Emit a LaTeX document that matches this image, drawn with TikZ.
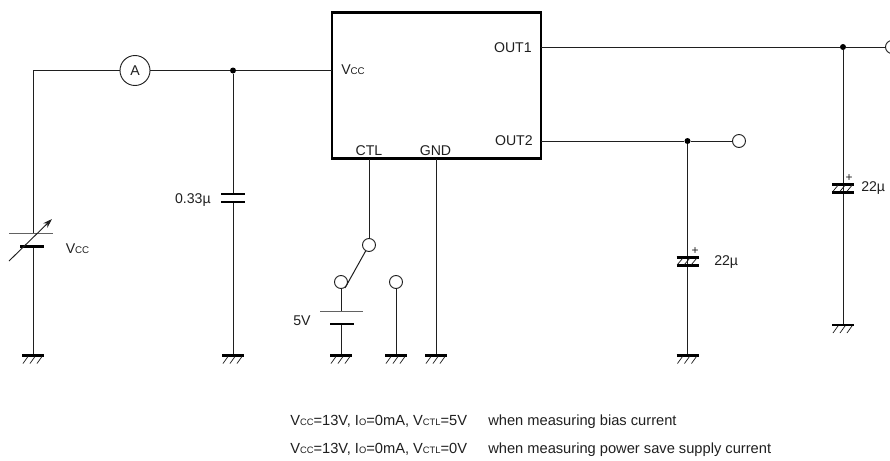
\documentclass[tikz,border=0pt]{standalone}
\usepackage{fontspec}
\setmainfont{Liberation Sans}
\usetikzlibrary{arrows.meta}
\newcommand{\lowcaps}[1]{{\fontsize{7.3}{8}\selectfont #1}}
\newcommand{\notecaps}[1]{{\fontsize{7}{8}\selectfont #1}}
\definecolor{ink}{gray}{0.12}
\tikzset{
  x=0.75pt,y=-0.75pt,
  wire/.style={draw=ink,line width=0.75pt},
  plate/.style={draw=black,line width=2.2pt},
  thinplate/.style={draw=ink!70,line width=0.75pt},
  terminal/.style={circle,draw=ink,fill=white,line width=0.7pt,minimum size=13*0.75pt,inner sep=0pt},
  dot/.style={circle,fill=black,minimum size=6*0.75pt,inner sep=0pt},
  lab/.style={inner sep=0pt,font=\fontsize{10.6}{11}\selectfont,text=ink},
  note/.style={inner sep=0pt,anchor=base west,font=\fontsize{11}{12}\selectfont,text=ink},
  gnd/.pic={
    \draw[plate] (-11,0) -- (11,0);
    \draw[draw=ink,line width=0.55pt] (-5,1) -- (-10,8) (2,1) -- (-3,8) (9,1) -- (4,8);
  },
  polcap/.pic={
    \draw[plate] (-11,-4) -- (11,-4);
    \draw[plate] (-11,4) -- (11,4);
    \draw[draw=ink,line width=0.55pt] (-5,-3) -- (-10,3) (2,-3) -- (-3,3) (9,-3) -- (4,3);
  }
}
\begin{document}
\begin{tikzpicture}
\useasboundingbox (0,0) rectangle (890,461);
% IC
\node[draw=black,line width=2.2pt,minimum width=209*0.75pt,minimum height=146.5*0.75pt,inner sep=0pt] (ic) at (436.5,85.7) {};
\node[lab,anchor=base west] (ivcc) at (341,74) {V\lowcaps{CC}};
\node[lab,anchor=base east] (iout1) at (532,52) {OUT1};
\node[lab,anchor=base east] (iout2) at (533,145) {OUT2};
\node[lab,anchor=base] (ictl) at (369,155) {CTL};
\node[lab,anchor=base] (ignd) at (435.5,155) {GND};
% named points
\coordinate (icvcc) at (332,70.5);
\coordinate (icout1) at (541,47);
\coordinate (icout2) at (541,141);
\coordinate (icctl) at (369,159);
\coordinate (icgnd) at (436,159);
\coordinate (corner) at (33,70.5);
\node[circle,draw=ink,fill=white,line width=0.7pt,minimum size=30*0.75pt,inner sep=0pt,lab] (am) at (135,70.5) {A};
\node[dot] (j1) at (233,70.5) {};
\node[dot] (j2) at (843,47) {};
\node[dot] (j3) at (687.5,141) {};
\node[terminal] (t1) at (892,47) {};
\node[terminal] (t2) at (739,141) {};
\node[terminal] (swa) at (369,245) {};
\node[terminal] (swb) at (341,282) {};
\node[terminal] (swc) at (396,282) {};
% grounds
\coordinate (g1) at (33,355.5);
\coordinate (g2) at (233,355.5);
\coordinate (g3) at (341,355.5);
\coordinate (g4) at (396,355.5);
\coordinate (g5) at (436,355.5);
\coordinate (g6) at (687.5,355.5);
\coordinate (g7) at (843,325);
% wires
\draw[wire] (g1) -- (33,246.5);
\draw[wire] (33,233.5) -- (corner) -- (am);
\draw[wire] (am) -- (j1) -- (icvcc);
\draw[wire] (j1) -- (233,194);
\draw[wire] (233,202) -- (g2);
\draw[wire] (icout1) -- (j2) -- (t1);
\draw[wire] (j2) -- (g7);
\draw[wire] (icout2) -- (j3) -- (t2);
\draw[wire] (j3) -- (g6);
\draw[wire] (icctl) -- (swa);
\draw[wire] (icgnd) -- (g5);
\draw[wire] (swa) -- (345,288);
\draw[wire] (swb) -- (341,311.5);
\draw[wire] (341,324) -- (g3);
\draw[wire] (swc) -- (g4);
% supply battery
\draw[thinplate] (9,233.5) -- (53,233.5);
\draw[plate] (20,246.5) -- (44,246.5);
\draw[draw=ink,line width=0.7pt,-{Stealth[length=7pt,width=4.5pt]}] (9,261) -- (52,219);
\node[lab,anchor=base west] (lvcc) at (65.5,244+9) {V\lowcaps{CC}};
% 0.33 cap
\draw[plate] (221,194) -- (245,194);
\draw[plate] (221,202) -- (245,202);
\node[lab,anchor=base east] (lc1) at (211,203) {0.33µ};
% 5V battery
\draw[thinplate] (320,311.5) -- (363,311.5);
\draw[plate] (330,324) -- (354,324);
\node[lab,anchor=base west] (l5v) at (293,325) {5V};
% polar caps
\pic at (687.5,261.5) {polcap};
\node[lab,font=\fontsize{9}{9}\selectfont] (p1) at (695,251.5) {+};
\node[lab,anchor=base west] (lc2) at (714,265) {22µ};
\pic at (843,188.3) {polcap};
\node[lab,font=\fontsize{9}{9}\selectfont] (p2) at (849,178) {+};
\node[lab,anchor=base west] (lc3) at (861,191.5) {22µ};
% grounds
\foreach \g in {g1,g2,g3,g4,g5,g6,g7} \pic at (\g) {gnd};
% notes
\node[note] (n1) at (290,425) {V\notecaps{CC}=13V, I\notecaps{O}=0mA, V\notecaps{CTL}=5V};
\node[note] (n2) at (488,425) {when measuring bias current};
\node[note] (n3) at (290,453) {V\notecaps{CC}=13V, I\notecaps{O}=0mA, V\notecaps{CTL}=0V};
\node[note] (n4) at (488,453) {when measuring power save supply current};
\end{tikzpicture}
\end{document}
